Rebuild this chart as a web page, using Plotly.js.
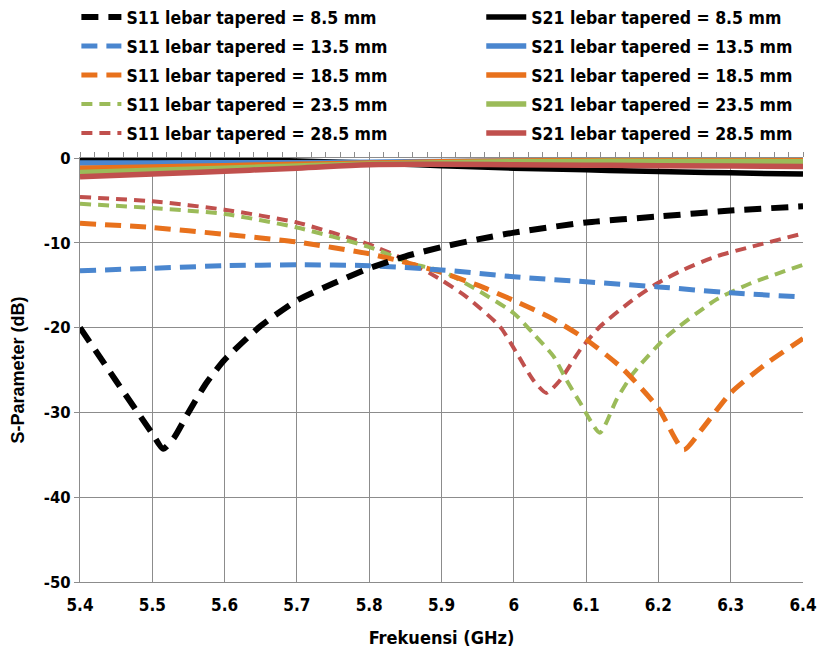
<!DOCTYPE html>
<html><head><meta charset="utf-8">
<script src="https://cdn.plot.ly/plotly-3.0.1.min.js"></script>
<style>html,body{margin:0;padding:0;background:#fff;}</style>
</head><body>
<div id="chart" style="width:817px;height:648px;"></div>
<script>
// ---- data ----
const s11_85_x = [5.4, 5.45, 5.5, 5.515, 5.53, 5.55, 5.575, 5.6, 5.65, 5.7, 5.75, 5.8, 5.85, 5.9, 5.95, 6.0, 6.1, 6.2, 6.3, 6.4];
const s11_85_y = [-20, -26.3, -32.5, -34.3, -33.0, -30, -26.5, -23.8, -19.8, -16.8, -14.8, -13.0, -11.6, -10.5, -9.6, -8.8, -7.6, -6.9, -6.2, -5.7];

const s11_135_x = [5.4, 5.5, 5.6, 5.7, 5.8, 5.9, 6.0, 6.1, 6.2, 6.3, 6.4];
const s11_135_y = [-13.3, -13.0, -12.7, -12.6, -12.7, -13.2, -14.0, -14.6, -15.2, -15.9, -16.4];

const s11_185_x = [5.4, 5.5, 5.6, 5.7, 5.8, 5.85, 5.9, 5.95, 6.0, 6.05, 6.1, 6.15, 6.2, 6.235, 6.26, 6.3, 6.35, 6.4];
const s11_185_y = [-7.7, -8.2, -9.0, -9.9, -11.3, -12.3, -13.5, -15.0, -16.8, -18.8, -21.4, -24.8, -29.5, -34.4, -32.0, -27.7, -24.2, -21.3];

const s11_235_x = [5.4, 5.5, 5.6, 5.7, 5.8, 5.86, 5.9, 5.95, 6.0, 6.027, 6.055, 6.073, 6.092, 6.119, 6.142, 6.165, 6.211, 6.28, 6.327, 6.4];
const s11_235_y = [-5.4, -5.9, -6.6, -8.2, -10.5, -12.5, -13.3, -15.6, -18.3, -20.7, -23.4, -26.2, -28.9, -32.4, -28.5, -25.4, -21.1, -16.7, -14.8, -12.6];

const s11_285_x = [5.4, 5.5, 5.6, 5.7, 5.8, 5.85, 5.9, 5.935, 5.981, 6.004, 6.027, 6.045, 6.064, 6.092, 6.119, 6.165, 6.198, 6.234, 6.28, 6.327, 6.4];
const s11_285_y = [-4.6, -5.1, -6.1, -7.6, -10.2, -12.0, -14.4, -16.4, -19.9, -23.0, -26.2, -27.7, -26.2, -22.6, -19.9, -16.7, -14.8, -13.2, -11.6, -10.5, -8.9];

const s21_x = [5.4, 5.5, 5.6, 5.7, 5.8, 5.9, 6.0, 6.1, 6.2, 6.3, 6.4];
const s21_85_y  = [-0.1, -0.1, -0.15, -0.35, -0.6, -0.9, -1.2, -1.4, -1.6, -1.75, -1.9];
const s21_135_y = [-0.6, -0.6, -0.55, -0.55, -0.5, -0.4, -0.35, -0.3, -0.25, -0.2, -0.2];
const s21_185_y = [-1.2, -1.05, -0.9, -0.75, -0.6, -0.45, -0.35, -0.3, -0.25, -0.2, -0.2];
const s21_235_y = [-1.7, -1.45, -1.2, -0.95, -0.7, -0.55, -0.45, -0.4, -0.4, -0.4, -0.45];
const s21_285_y = [-2.2, -1.9, -1.55, -1.2, -0.8, -0.75, -0.8, -0.85, -0.9, -0.95, -1.0];

const labels = ['8.5', '13.5', '18.5', '23.5', '28.5'];
const colors = ['#000000', '#4a86cf', '#e8711c', '#9bbb59', '#c0504d'];
const xTicks = [5.4, 5.5, 5.6, 5.7, 5.8, 5.9, 6.0, 6.1, 6.2, 6.3, 6.4];
const xTickText = ['5.4', '5.5', '5.6', '5.7', '5.8', '5.9', '6', '6.1', '6.2', '6.3', '6.4'];
const yTicks = [0, -10, -20, -30, -40, -50];
const yTickText = ['0', '-10', '-20', '-30', '-40', '-50'];

const s11X = [s11_85_x, s11_135_x, s11_185_x, s11_235_x, s11_285_x];
const s11Y = [s11_85_y, s11_135_y, s11_185_y, s11_235_y, s11_285_y];
const s21Y = [s21_85_y, s21_135_y, s21_185_y, s21_235_y, s21_285_y];
const dashW = [6, 5, 5, 4, 4];
const dashP = ['17px,10px', '16px,9px', '16px,9px', '11px,7px', '11px,7px'];

const traces = [];
for (let i = 0; i < 5; i++) {
  traces.push({
    x: s21_x, y: s21Y[i], mode: 'lines', type: 'scatter',
    name: 'S21 lebar tapered = ' + labels[i] + ' mm',
    line: {color: colors[i], width: 5.5, shape: 'spline'},
    legend: 'legend2', legendgroup: 'b' + i, legendrank: i + 1
  });
}
for (let i = 4; i >= 0; i--) {
  traces.push({
    x: s11X[i], y: s11Y[i], mode: 'lines', type: 'scatter',
    name: 'S11 lebar tapered = ' + labels[i] + ' mm',
    line: {color: colors[i], width: dashW[i], dash: dashP[i], shape: 'spline', smoothing: 0.6},
    legend: 'legend', legendgroup: 'a' + i, legendrank: i + 1
  });
}
traces.push({x: [5.4, 6.4], y: [0, 0], xaxis: 'x2', mode: 'lines', line: {width: 0}, showlegend: false, hoverinfo: 'skip'});

const FONT = 'DejaVu Sans Condensed, Liberation Sans Narrow, Arial Narrow, Liberation Sans, Arial, sans-serif';
const legendCommon = {
  font: {family: FONT, size: 17.5, color: '#000', weight: 'bold'},
  bgcolor: 'rgba(0,0,0,0)', traceorder: 'grouped', tracegroupgap: 3.3,
  yanchor: 'top', y: 1.375, itemwidth: 40
};

const layout = {
  width: 817, height: 648,
  margin: {l: 80, r: 14, t: 158, b: 66, autoexpand: false},
  paper_bgcolor: '#fff', plot_bgcolor: '#fff',
  font: {family: FONT, color: '#000'},
  showlegend: true,
  legend: Object.assign({}, legendCommon, {x: -0.005, xanchor: 'left'}),
  legend2: Object.assign({}, legendCommon, {x: 0.555, xanchor: 'left'}),
  xaxis: {
    range: [5.4, 6.4], tickvals: xTicks, ticktext: xTickText,
    showgrid: true, gridcolor: '#8c8c8c', gridwidth: 1,
    zeroline: false, showline: true, linecolor: '#8c8c8c', mirror: false,
    ticks: '', ticklabelstandoff: 8, tickfont: {family: FONT, size: 17, weight: 'bold'},
    title: {text: 'Frekuensi (GHz)', font: {family: FONT, size: 18, weight: 'bold'}, standoff: 16}
  },
  xaxis2: {
    range: [5.4, 6.4], overlaying: 'x', side: 'top', showticklabels: false,
    tickvals: xTicks, ticks: 'outside', ticklen: 5, tickcolor: '#8c8c8c',
    minor: {dtick: 0.02, tick0: 5.4, ticks: 'outside', ticklen: 5, tickcolor: '#8c8c8c', showgrid: false},
    showgrid: false, zeroline: false, showline: true, linecolor: '#8c8c8c'
  },
  yaxis: {
    range: [-50, 0], tickvals: yTicks, ticktext: yTickText,
    showgrid: true, gridcolor: '#8c8c8c', gridwidth: 1,
    zeroline: false, showline: true, linecolor: '#8c8c8c',
    ticks: 'outside', ticklen: 5, tickcolor: '#8c8c8c',
    tickfont: {family: FONT, size: 16.5, weight: 'bold'},
    title: {text: 'S-Parameter (dB)', font: {family: 'Liberation Sans, Arial, sans-serif', size: 18, weight: 'bold'}, standoff: 14}
  }
};

Plotly.newPlot('chart', traces, layout, {displayModeBar: false, staticPlot: true});
</script>
</body></html>
